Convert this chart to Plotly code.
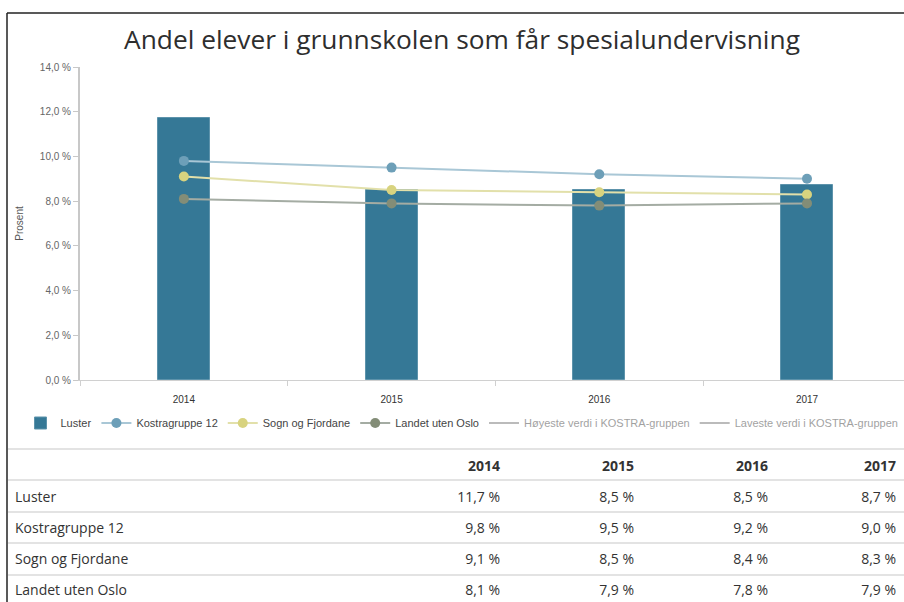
import plotly.graph_objects as go

# ---- data ----
years = ["2014", "2015", "2016", "2017"]
luster = [11.7, 8.5, 8.5, 8.7]
kostragruppe = [9.8, 9.5, 9.2, 9.0]
sogn = [9.1, 8.5, 8.4, 8.3]
landet = [8.1, 7.9, 7.8, 7.9]
series_names = ["Luster", "Kostragruppe 12", "Sogn og Fjordane", "Landet uten Oslo"]
hidden_names = ["Høyeste verdi i KOSTRA-gruppen", "Laveste verdi i KOSTRA-gruppen"]
hidden_values = [None, None, None, None]  # series hidden in the chart (values not shown)
y_tickvals = [0, 2, 4, 6, 8, 10, 12, 14]
y_ticktext = ["0,0 %", "2,0 %", "4,0 %", "6,0 %", "8,0 %", "10,0 %", "12,0 %", "14,0 %"]
title_text = "Andel elever i grunnskolen som får spesialundervisning"


def pct(v):
    return f"{v:.1f} %".replace(".", ",")


W, H = 904, 602
fig = go.Figure()

fig.add_trace(go.Bar(x=years, y=luster, name=series_names[0], width=0.25,
                     marker=dict(color="#357896", line=dict(color="#5d93ab", width=1))))
fig.add_trace(go.Scatter(x=years, y=kostragruppe, name=series_names[1], mode="lines+markers",
                         line=dict(color="#a9c7d6", width=2),
                         marker=dict(color="#6d9fb8", size=10)))
fig.add_trace(go.Scatter(x=years, y=sogn, name=series_names[2], mode="lines+markers",
                         line=dict(color="#e2e0aa", width=2),
                         marker=dict(color="#d8d37f", size=10)))
fig.add_trace(go.Scatter(x=years, y=landet, name=series_names[3], mode="lines+markers",
                         line=dict(color="#a4aca3", width=2),
                         marker=dict(color="#838d77", size=10)))
for nm in hidden_names:
    fig.add_trace(go.Scatter(x=years, y=hidden_values, name=nm, mode="lines",
                             line=dict(color="#7a7a7a", width=2), visible="legendonly"))

# table
data_rows = [luster, kostragruppe, sogn, landet]
cols = [[pct(r[i]) for r in data_rows] for i in range(len(years))]
fig.add_trace(go.Table(
    domain=dict(x=[7 / W, 1], y=[0, 154 / H]),
    columnwidth=[367, 134, 134, 134, 128],
    header=dict(values=[""] + [f"<b>{y}</b>" for y in years],
                align=["left", "right", "right", "right", "right"],
                font=dict(family="Open Sans", size=14, color="#333333"),
                fill_color="white", line=dict(color="rgba(0,0,0,0)", width=0), height=30),
    cells=dict(values=[series_names] + cols,
               align=["left", "right", "right", "right", "right"],
               font=dict(family="Open Sans", size=14, color="#333333"),
               fill_color="white", line=dict(color="rgba(0,0,0,0)", width=0), height=31),
))

shapes = []
# frame lines of the screenshot
shapes.append(dict(type="line", xref="paper", yref="paper", x0=7 / W, x1=1, y0=1 - 13 / H, y1=1 - 13 / H,
                   line=dict(color="#222222", width=1.5)))
shapes.append(dict(type="line", xref="paper", yref="paper", x0=7 / W, x1=7 / W, y0=0, y1=1 - 13 / H,
                   line=dict(color="#222222", width=1.5)))
# table separators
for yp in [449, 480, 512, 543, 575]:
    shapes.append(dict(type="line", xref="paper", yref="paper", x0=8 / W, x1=1, y0=1 - yp / H, y1=1 - yp / H,
                       line=dict(color="#e3e3e3", width=2)))

fig.update_layout(
    width=W, height=H,
    margin=dict(l=0, r=0, t=0, b=0, autoexpand=False),
    paper_bgcolor="white", plot_bgcolor="white",
    font=dict(family="Liberation Sans, Arial", color="#333333"),
    title=dict(text=title_text, x=462 / W, y=1 - 40 / H, xref="paper", yref="paper",
               xanchor="center", yanchor="middle", automargin=False,
               font=dict(family="Open Sans", size=26.3, color="#2e2e2e")),
    showlegend=True,
    legend=dict(orientation="h", x=462 / W, y=1 - 423 / H, xanchor="center", yanchor="middle",
                font=dict(family="Liberation Sans, Arial", size=11, color="#444444"),
                itemwidth=30, traceorder="normal"),
    shapes=shapes,
    bargap=0,
)
fig.update_xaxes(type="category", domain=[80 / W, 1], range=[-0.5, 3.467], automargin=False,
                 showline=True, linecolor="#d0d0d0", linewidth=1,
                 ticks="outside", tickson="boundaries", ticklen=5, tickcolor="#d0d0d0",
                 tickfont=dict(size=10, color="#333333"), showgrid=False, ticklabelstandoff=10)
fig.update_yaxes(domain=[1 - 380 / H, 1 - 67 / H], range=[0, 14], automargin=False,
                 tickvals=y_tickvals, ticktext=y_ticktext,
                 showline=True, linecolor="#c8c8c8", linewidth=2,
                 ticks="outside", ticklen=5, tickcolor="#c8c8c8",
                 tickfont=dict(size=10, color="#666666"), showgrid=False, zeroline=False,
                 title=dict(text="Prosent", font=dict(size=10, color="#555555"), standoff=14))

fig.write_html("out.html", config={"displayModeBar": False},
               post_script="document.body.style.margin='0px';document.body.style.overflow='hidden';")
